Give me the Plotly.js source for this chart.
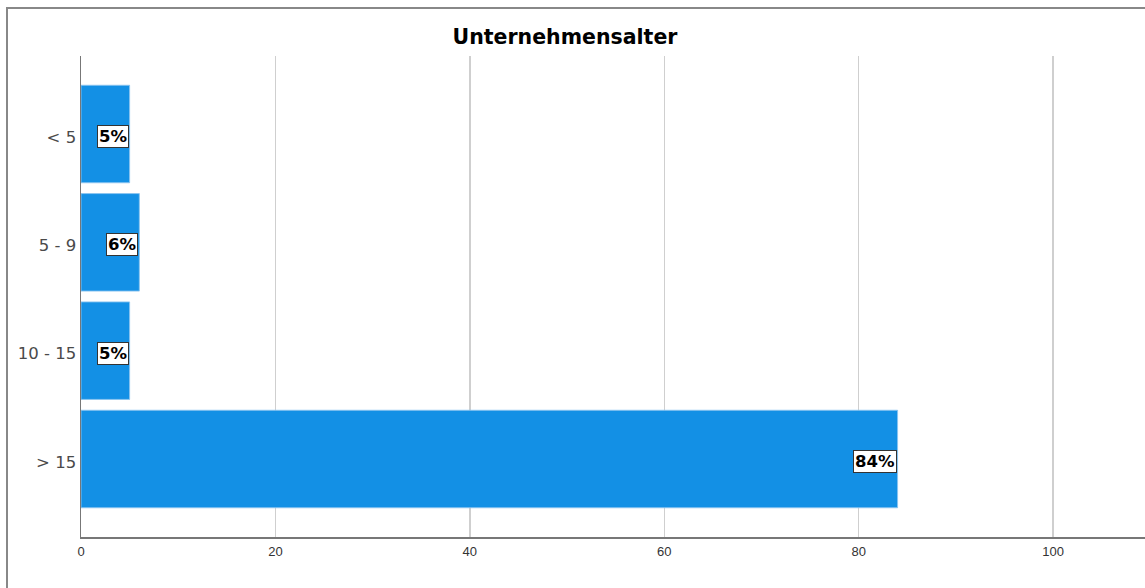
<!DOCTYPE html>
<html>
<head>
<meta charset="utf-8">
<script src="https://cdn.plot.ly/plotly-3.0.1.min.js"></script>
<style>
  html, body { margin: 0; padding: 0; background: #ffffff; }
  #chart { width: 1145px; height: 588px; }
</style>
</head>
<body>
<div id="chart"></div>
<script>
// Unternehmensalter (Jahre) – Anteil der Unternehmen in Prozent
const categories = ['< 5', '5 - 9', '10 - 15', '> 15'];
const percentages = [5, 6, 5, 84];
const valueLabels = ['5%', '6%', '5%', '84%'];
const xTicks = [0, 20, 40, 60, 80, 100];

const barColor = 'rgb(19,144,229)';

const trace = {
  type: 'bar',
  orientation: 'h',
  y: categories,
  x: percentages,
  width: 0.9,
  marker: { color: barColor, line: { color: 'rgba(140,196,240,0.9)', width: 1 } },
  hoverinfo: 'none'
};

// Value labels in white boxes at the end of each bar
const labelAnnotations = categories.map((c, i) => ({
  x: percentages[i],
  y: c,
  xref: 'x',
  yref: 'y',
  text: '<b>' + valueLabels[i] + '</b>',
  showarrow: false,
  xanchor: 'right',
  yanchor: 'middle',
  xshift: -1,
  yshift: -2.5,
  bgcolor: '#ffffff',
  bordercolor: '#333333',
  borderwidth: 1,
  borderpad: 1,
  font: { family: 'DejaVu Sans, Verdana, sans-serif', size: 16.5, color: '#000000' }
}));

const layout = {
  width: 1145,
  height: 588,
  margin: { l: 81, r: 0, t: 56, b: 51 },
  paper_bgcolor: '#ffffff',
  plot_bgcolor: '#ffffff',
  showlegend: false,
  title: {
    text: '<b>Unternehmensalter</b>',
    xref: 'container',
    yref: 'container',
    x: 565 / 1145,
    y: 1 - 37 / 588,
    xanchor: 'center',
    yanchor: 'middle',
    font: { family: 'DejaVu Sans, Verdana, sans-serif', size: 20.5, color: '#000000' }
  },
  xaxis: {
    range: [0, 109.45],
    tickvals: xTicks,
    ticktext: xTicks.map(String),
    showgrid: true,
    gridcolor: '#cfcfcf',
    gridwidth: 1.5,
    zeroline: false,
    showline: true,
    linecolor: '#777777',
    linewidth: 1.5,
    ticks: '',
    ticklabelstandoff: 2,
    tickfont: { family: 'Liberation Sans, Arial, sans-serif', size: 13, color: '#333333' },
    fixedrange: true
  },
  yaxis: {
    type: 'category',
    autorange: false,
    range: [3.72, -0.72],
    showgrid: false,
    zeroline: false,
    showline: true,
    linecolor: '#777777',
    linewidth: 1.5,
    ticks: '',
    ticklabelstandoff: 0,
    ticklabelshift: -3,
    tickfont: { family: 'DejaVu Sans, Verdana, sans-serif', size: 16.5, color: '#4a4a4a' },
    fixedrange: true
  },
  annotations: labelAnnotations.concat([
    {
      text: 'Prozent',
      xref: 'paper',
      yref: 'paper',
      x: (640 - 81) / 1064,
      y: -(584 - 537) / 481,
      xanchor: 'center',
      yanchor: 'top',
      showarrow: false,
      font: { family: 'Liberation Sans, Arial, sans-serif', size: 15, color: '#222222' }
    }
  ]),
  shapes: [
    {
      // outer chart frame
      type: 'rect',
      xref: 'paper',
      yref: 'paper',
      x0: (7 - 81) / 1064,
      x1: 1.05,
      y0: -0.2,
      y1: 1 + (56 - 8) / 481,
      line: { color: '#888888', width: 2 },
      fillcolor: 'rgba(0,0,0,0)',
      layer: 'below'
    }
  ]
};

Plotly.newPlot('chart', [trace], layout, { staticPlot: true, displayModeBar: false });
</script>
</body>
</html>
